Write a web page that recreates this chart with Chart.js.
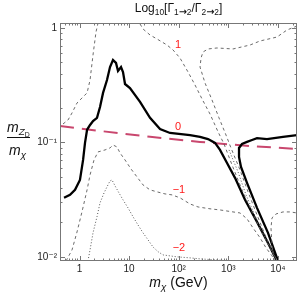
<!DOCTYPE html>
<html>
<head>
<meta charset="utf-8">
<script src="https://cdn.jsdelivr.net/npm/chart.js@4"></script>
<style>
    body { margin: 0; background: #fff; }
    #area { position: relative; width: 300px; height: 301px; font-family: "Liberation Sans", Arial, sans-serif; color: #111; }
    #grafico { position: absolute; left: 0; top: 0; }
    sub { font-size: 70%; vertical-align: -0.3em; line-height: 0; }
    .seta { font-family: "DejaVu Sans", sans-serif; font-size: 115%; font-weight: bold; }
    #titulo { position: absolute; left: 60px; width: 237px; top: 1px; text-align: center; font-size: 12px; line-height: 14px; }
    #rotuloX { position: absolute; left: 60px; width: 237px; top: 274px; text-align: center; font-size: 14px; line-height: 16px; }
    #rotuloY { position: absolute; left: 4px; width: 30px; top: 0; font-size: 14px; }
    #rotuloY .num { position: absolute; left: 3px; top: 120px; line-height: 14px; white-space: nowrap; }
    #rotuloY .barra { position: absolute; left: 3px; top: 137px; width: 23px; height: 1px; background: #111; }
    #rotuloY .den { position: absolute; left: 5px; top: 143px; line-height: 14px; white-space: nowrap; }
</style>
</head>
<body>
<div id="area">
    <canvas id="grafico" width="300" height="301"></canvas>
    <div id="titulo">Log<sub>10</sub>[Γ<sub>1<span class="seta">→</span>2</sub>/Γ<sub>2<span class="seta">→</span>2</sub>]</div>
    <div id="rotuloX"><i>m</i><sub><i>χ</i></sub> (GeV)</div>
    <div id="rotuloY">
        <div class="num"><i>m</i><sub><i>Z</i><sub>D</sub></sub></div>
        <div class="barra"></div>
        <div class="den"><i>m</i><sub><i>χ</i></sub></div>
    </div>
</div>
<script>
// contorno 0 (linha preta grossa), ramo esquerdo
const zeroEsqX = [0.487, 0.643, 0.812, 1.02, 1.18, 1.29, 1.42, 1.63, 1.87, 2.25, 2.59, 2.98, 3.58, 4.12, 4.73, 5.44, 5.97, 6.87, 7.53, 8.27, 10.4, 16.6, 26.4, 42.0, 66.8, 169, 269, 390, 540, 680, 942, 1365, 2171, 3790, 6314, 9594];
const zeroEsqY = [0.0328, 0.0348, 0.0385, 0.047, 0.0703, 0.099, 0.129, 0.142, 0.154, 0.164, 0.204, 0.271, 0.351, 0.456, 0.525, 0.495, 0.421, 0.456, 0.413, 0.324, 0.299, 0.226, 0.164, 0.131, 0.121, 0.116, 0.112, 0.107, 0.099, 0.086, 0.0662, 0.049, 0.0315, 0.0202, 0.0132, 0.0092];
// contorno 0, ramo direito
const zeroDirX = [24270, 12680, 6027, 3790, 3004, 2383, 1889, 1644, 1644, 1803, 2383, 3790, 6314, 10050];
const zeroDirY = [0.116, 0.112, 0.107, 0.109, 0.105, 0.101, 0.097, 0.0895, 0.0747, 0.0611, 0.0443, 0.0268, 0.0162, 0.0092];
// linha vermelha tracejada
const vermelhaX = [0.404, 2.59, 26.4, 269, 2738, 24270];
const vermelhaY = [0.139, 0.126, 0.112, 0.101, 0.093, 0.0878];
// contorno 1 (tracejado)
const umAX = [0.465, 0.586, 0.706, 0.89, 1.18, 1.42, 1.63, 1.87, 2.15, 2.36];
const umAY = [0.145, 0.157, 0.181, 0.221, 0.25, 0.271, 0.351, 0.581, 0.923, 1.106];
const umBX = [16.6, 19.1, 26.4, 36.5, 58.1, 76.8, 106, 154, 213, 295, 428, 620, 819, 1188, 1889, 3004, 4779, 6928, 9594];
const umBY = [1.084, 0.98, 0.869, 0.802, 0.71, 0.643, 0.547, 0.413, 0.318, 0.24, 0.177, 0.124, 0.097, 0.0636, 0.0385, 0.0247, 0.0162, 0.012, 0.0092];
const umCX = [24270, 15250, 9594, 4356, 2738, 1245, 592, 390, 309, 282, 269, 339, 469, 649, 899, 1133, 1722, 2497, 3790, 5491, 7604, 9594];
const umCY = [1.041, 0.961, 0.834, 0.77, 0.71, 0.656, 0.669, 0.656, 0.617, 0.547, 0.456, 0.331, 0.235, 0.164, 0.116, 0.0895, 0.0575, 0.037, 0.0233, 0.0156, 0.0115, 0.0092];
// pontilhado dentro do funil
const funilX = [1033, 1570, 2275, 3617, 5753, 9594];
const funilY = [0.086, 0.0553, 0.0348, 0.0219, 0.0141, 0.0092];
// contorno -1 (tracejado)
const menosUmX = [0.535, 0.706, 0.89, 1.12, 1.42, 1.63, 1.96, 2.36, 3.27, 4.12, 4.73, 5.7, 6.55, 8.27, 10.9, 14.4, 19.1, 26.4, 36.5, 52.9, 73.3, 106, 169, 245, 428, 680, 1245, 1722, 2383, 3148, 4356, 5753, 7604, 8741];
const menosUmY = [0.0092, 0.0115, 0.0165, 0.0247, 0.0385, 0.052, 0.0703, 0.0826, 0.086, 0.0895, 0.095, 0.0913, 0.081, 0.0703, 0.0587, 0.05, 0.0425, 0.0385, 0.037, 0.0355, 0.0348, 0.0328, 0.029, 0.0273, 0.0263, 0.0257, 0.0247, 0.0242, 0.0215, 0.0179, 0.0147, 0.012, 0.0102, 0.0092];
const menosUmDirX = [8343, 7604, 7257, 7604, 9158, 12680, 17530, 24270];
const menosUmDirY = [0.0092, 0.0127, 0.0179, 0.0219, 0.0237, 0.0247, 0.0247, 0.0242];
// contorno -2 (pontilhado)
const menosDoisX = [1.48, 1.63, 1.87, 2.25, 2.59, 3.12, 3.58, 4.12, 4.52, 5.2, 6.25, 7.53, 9.5, 12.0, 15.1, 19.1, 24.0, 30.3, 38.3, 48.2, 66.8, 92.4, 169, 269, 592, 1082];
const menosDoisY = [0.0092, 0.0115, 0.0162, 0.0224, 0.0296, 0.0362, 0.0409, 0.0461, 0.047, 0.0417, 0.0362, 0.0315, 0.0268, 0.0224, 0.019, 0.0162, 0.0141, 0.0122, 0.0111, 0.0104, 0.0102, 0.01, 0.0098, 0.0096, 0.0094, 0.0092];

// rotulos dos contornos
const rotulos = ['1', '0', '\u22121', '\u22122'];
const rotulosX = [96.8, 96.8, 101, 101];
const rotulosY = [0.71, 0.137, 0.0385, 0.012];

// marcas dos eixos
const marcasX = [1, 10, 100, 1000, 10000];
const nomesX = ['1', '10', '10\u00b2', '10\u00b3', '10\u2074'];
const marcasY = [0.01, 0.1, 1];
const nomesY = ['10\u207b\u00b2', '10\u207b\u00b9', '1'];

function pontos(xs, ys) {
    return xs.map((x, i) => ({ x: x, y: ys[i] }));
}

function curva(xs, ys, cor, largura, tracejado) {
    return {
        data: pontos(xs, ys),
        showLine: true,
        borderColor: cor,
        borderWidth: largura,
        borderDash: tracejado,
        pointRadius: 0,
        tension: 0,
        fill: false,
        clip: 0
    };
}

const cinza = '#5a5a5a';
const tracejadoCinza = [3, 3];
const pontilhado = [1, 2];

const moldura = {
    id: 'moldura',
    afterDatasetsDraw(chart) {
        const { ctx, chartArea: a, scales: { x, y } } = chart;
        ctx.save();
        ctx.strokeStyle = '#777';
        ctx.lineWidth = 1;
        ctx.setLineDash([]);
        ctx.strokeRect(a.left + 0.5, a.top + 0.5, a.right - a.left - 1, a.bottom - a.top - 1);

        ctx.beginPath();
        for (let d = -1; d <= 4; d++) {
            for (let k = 1; k <= 9; k++) {
                const v = k * Math.pow(10, d);
                if (v < x.min || v > x.max) continue;
                const px = Math.round(x.getPixelForValue(v)) + 0.5;
                const len = k === 1 ? 5 : 2.5;
                ctx.moveTo(px, a.bottom);
                ctx.lineTo(px, a.bottom - len);
                ctx.moveTo(px, a.top);
                ctx.lineTo(px, a.top + len);
            }
        }
        for (let d = -3; d <= 0; d++) {
            for (let k = 1; k <= 9; k++) {
                const v = k * Math.pow(10, d);
                if (v < y.min || v > y.max) continue;
                const py = Math.round(y.getPixelForValue(v)) + 0.5;
                const len = k === 1 ? 5 : 2.5;
                ctx.moveTo(a.left, py);
                ctx.lineTo(a.left + len, py);
                ctx.moveTo(a.right, py);
                ctx.lineTo(a.right - len, py);
            }
        }
        ctx.stroke();

        ctx.fillStyle = '#ff1a1a';
        ctx.font = '11px "Liberation Sans", Arial, sans-serif';
        ctx.textAlign = 'center';
        ctx.textBaseline = 'middle';
        rotulos.forEach((r, i) => {
            ctx.fillText(r, x.getPixelForValue(rotulosX[i]), y.getPixelForValue(rotulosY[i]));
        });
        ctx.restore();
    }
};

Chart.defaults.font.family = '"Liberation Sans", "DejaVu Sans", Arial, sans-serif';

new Chart(document.getElementById('grafico').getContext('2d'), {
    type: 'scatter',
    data: {
        datasets: [
            curva(menosDoisX, menosDoisY, '#555', 1, pontilhado),
            curva(funilX, funilY, '#555', 1, pontilhado),
            curva(menosUmX, menosUmY, cinza, 0.9, tracejadoCinza),
            curva(menosUmDirX, menosUmDirY, cinza, 0.9, tracejadoCinza),
            curva(umAX, umAY, cinza, 0.9, tracejadoCinza),
            curva(umBX, umBY, cinza, 0.9, tracejadoCinza),
            curva(umCX, umCY, cinza, 0.9, tracejadoCinza),
            curva(zeroEsqX, zeroEsqY, '#000', 2.3, []),
            curva(zeroDirX, zeroDirY, '#000', 2.3, []),
            curva(vermelhaX, vermelhaY, '#c9476e', 2, [14, 8])
        ]
    },
    options: {
        responsive: false,
        animation: false,
        layout: { padding: { top: 23, right: 3, left: 0, bottom: 0 } },
        plugins: { legend: { display: false }, tooltip: { enabled: false } },
        scales: {
            x: {
                type: 'logarithmic',
                min: 0.404,
                max: 24270,
                grid: { display: false, drawTicks: false },
                border: { display: false },
                afterBuildTicks: (s) => { s.ticks = marcasX.map(v => ({ value: v })); },
                afterFit: (s) => { s.height = 40; },
                ticks: {
                    autoSkip: false,
                    maxRotation: 0,
                    padding: 2,
                    color: '#222',
                    font: { size: 10 },
                    callback: (v) => nomesX[marcasX.indexOf(v)]
                }
            },
            y: {
                type: 'logarithmic',
                min: 0.0092,
                max: 1.106,
                grid: { display: false, drawTicks: false },
                border: { display: false },
                afterBuildTicks: (s) => { s.ticks = marcasY.map(v => ({ value: v })); },
                afterFit: (s) => { s.width = 60; },
                ticks: {
                    autoSkip: false,
                    padding: 3,
                    color: '#222',
                    font: { size: 10 },
                    callback: (v) => nomesY[marcasY.indexOf(v)]
                }
            }
        }
    },
    plugins: [moldura]
});
</script>
</body>
</html>
